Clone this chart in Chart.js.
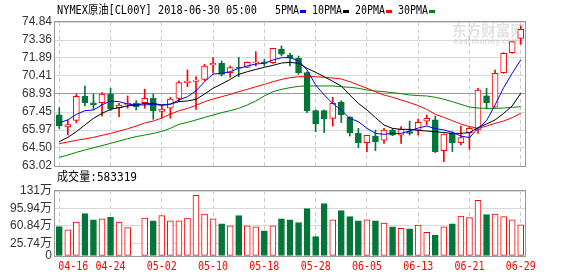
<!DOCTYPE html>
<html>
<head>
<meta charset="utf-8">
<script src="https://cdn.jsdelivr.net/npm/chart.js@4.4.0/dist/chart.umd.min.js"></script>
<style>
  body { margin: 0; background: #fff; width: 578px; height: 276px; overflow: hidden; position: relative; }
  canvas { position: absolute; left: 0; }
  #kline { top: 0; }
  #vol { top: 168px; }
</style>
</head>
<body>
<canvas id="kline" width="578" height="180"></canvas>
<canvas id="vol" width="578" height="108"></canvas>
<script>
const title = 'NYMEX原油[CL00Y] 2018-06-30 05:00';
const lastVolume = '583319';

const dates = ['04-16','04-17','04-18','04-19','04-20','04-23','04-24','04-25','04-26','04-27',
  '04-30','05-01','05-02','05-03','05-04','05-07','05-08','05-09','05-10','05-11',
  '05-14','05-15','05-16','05-17','05-18','05-21','05-22','05-23','05-24','05-25',
  '05-28','05-29','05-30','05-31','06-01','06-04','06-05','06-06','06-07','06-08',
  '06-11','06-12','06-13','06-14','06-15','06-18','06-19','06-20','06-21','06-22',
  '06-25','06-26','06-27','06-28','06-29'];
const xTickLabels = ['04-16','04-24','05-02','05-10','05-18','05-28','06-05','06-13','06-21','06-29'];

const open = [67.21,66.22,66.77,68.74,68.21,68.21,68.93,67.80,68.03,68.17,
  68.21,68.57,67.51,67.76,68.57,69.86,69.97,70.13,71.31,71.45,
  70.68,71.12,71.12,71.50,71.58,71.50,72.60,72.13,71.86,70.68,
  67.56,67.56,66.93,68.27,67.01,65.70,64.94,65.48,65.15,65.97,
  65.56,65.84,65.97,66.71,66.80,64.28,65.70,64.94,65.76,65.98,
  68.77,67.84,70.68,72.32,73.50];
const high = [67.80,66.80,68.93,69.59,68.93,69.04,69.40,68.17,68.77,68.38,
  69.32,68.93,68.03,68.66,70.00,70.90,70.35,71.37,71.91,71.64,
  71.23,71.94,71.56,72.40,71.77,72.68,72.87,72.27,72.05,70.76,
  67.62,67.62,68.66,68.38,67.07,66.11,65.54,65.97,66.11,66.11,
  66.25,66.71,66.88,67.21,67.12,65.65,65.84,66.30,66.25,69.40,
  69.40,70.90,72.32,73.23,74.51];
const low = [66.10,65.57,66.57,67.95,67.67,67.12,67.56,67.07,67.76,67.62,
  67.76,66.85,66.94,66.94,68.30,69.53,67.67,70.02,70.63,70.41,
  70.30,70.35,71.09,71.23,71.23,71.45,72.05,71.23,70.54,67.40,
  65.84,65.76,66.30,66.58,65.48,64.53,64.20,64.28,64.88,65.50,
  64.88,65.56,65.56,66.39,64.12,63.38,64.20,64.75,64.39,65.70,
  67.75,67.84,70.63,72.27,73.01];
const close = [66.30,66.43,68.74,68.21,68.05,68.93,67.72,68.02,68.17,67.89,
  68.57,67.56,67.70,68.52,69.86,70.00,70.08,71.23,71.45,70.54,
  71.09,71.04,71.53,71.58,71.45,72.68,72.19,71.91,70.68,67.56,
  66.47,66.88,68.16,67.21,65.76,64.94,65.54,65.02,65.97,65.56,
  66.03,65.70,66.60,66.93,64.20,65.65,64.94,65.35,66.11,69.26,
  68.22,70.63,72.27,73.23,74.24];

const ma5 = [66.58,66.80,67.26,67.56,67.62,68.03,68.36,68.30,68.11,68.03,
  68.03,68.08,68.00,68.08,68.44,68.71,69.18,69.94,70.57,70.63,
  70.76,71.04,71.23,71.39,71.45,71.72,71.91,71.91,71.66,70.90,
  69.67,68.85,68.16,67.62,66.93,66.66,66.11,65.70,65.62,65.70,
  65.70,65.89,66.14,66.30,66.09,65.98,65.78,65.48,65.35,66.11,
  66.74,68.03,69.45,70.63,71.72];
const ma10 = [65.02,65.37,65.84,66.39,66.93,67.34,67.67,67.81,67.95,68.03,
  68.16,68.16,68.03,68.11,68.30,68.36,68.49,68.93,69.40,69.75,
  70.13,70.54,70.76,70.95,71.12,71.28,71.47,71.53,71.45,71.04,
  70.71,70.35,69.97,69.59,68.85,68.16,67.62,66.99,66.38,66.11,
  66.03,66.03,65.95,65.89,65.84,65.76,65.70,65.70,65.76,66.17,
  66.47,66.80,67.34,67.95,68.99];
const ma20 = [64.85,64.99,65.13,65.24,65.37,65.54,65.70,65.89,66.08,66.30,
  66.55,66.71,66.96,67.29,67.55,67.75,68.00,68.30,68.52,68.71,
  68.90,69.12,69.31,69.53,69.72,69.94,70.13,70.27,70.35,70.35,
  70.35,70.30,70.24,70.16,69.94,69.67,69.40,69.12,68.85,68.66,
  68.44,68.22,67.98,67.67,67.26,67.01,66.74,66.47,66.25,66.11,
  66.30,66.52,66.71,66.99,67.34];
const ma30 = [63.73,63.92,64.14,64.33,64.52,64.69,64.88,65.07,65.26,65.43,
  65.56,65.70,65.86,66.11,66.44,66.60,66.80,67.01,67.20,67.40,
  67.56,67.75,68.03,68.36,68.77,69.12,69.31,69.45,69.56,69.59,
  69.59,69.59,69.59,69.53,69.48,69.40,69.26,69.18,69.12,69.04,
  68.96,68.85,68.80,68.77,68.66,68.50,68.30,68.08,67.86,67.78,
  67.75,67.75,67.78,67.84,67.89];

// 成交量, 单位 万
const volume = [59.4,52.6,68.3,85.4,73.1,75.1,77.8,68.3,57.3,null,
  76.5,71.1,81.3,71.1,71.1,76.5,122.2,84.7,75.1,64.9,
  60.8,81.3,60.8,58.7,50.6,60.8,75.1,73.1,67.6,95.6,
  39.0,105.8,73.1,91.5,79.2,71.0,73.1,71.0,66.3,58.7,
  56.0,54.6,62.2,47.8,42.4,58.7,64.9,80.6,77.2,112.0,
  83.3,84.7,79.2,73.1,62.8];

const priceTicks = [63.02,64.50,65.97,67.45,68.93,70.41,71.89,73.36,74.84];
const volTicks = [0,25.74,60.84,95.94,131];

const RED = '#ff0000';
const GREEN = '#06753a';
const up = close.map((c, i) => c >= open[i]);
const MONO = "'DejaVu Sans Mono', 'Noto Sans CJK SC', monospace";

const xAxis = () => ({
  type: 'category',
  offset: true,
  afterBuildTicks: s => { s.ticks = s.ticks.filter(t => xTickLabels.includes(dates[t.value])); },
  afterFit: s => { s.height = 0; },
  ticks: { display: false, autoSkip: false },
  grid: { color: '#cccccc', offset: false, drawTicks: false },
  border: { display: false, dash: [4, 3] }
});

const frame = {
  id: 'frame',
  beforeDatasetsDraw(chart) {
    const { ctx, chartArea: a } = chart;
    ctx.save();
    ctx.strokeStyle = '#999';
    ctx.lineWidth = 1;
    ctx.strokeRect(a.left - 0.5, a.top - 0.5, a.right - a.left + 1, a.bottom - a.top + 1);
    ctx.restore();
  }
};

const header = {
  id: 'header',
  beforeDatasetsDraw(chart) {
    const ctx = chart.ctx;
    ctx.save();
    ctx.fillStyle = 'rgba(175,175,175,0.35)';
    ctx.textBaseline = 'middle';
    ctx.font = "bold 15px 'Noto Sans CJK SC'";
    ctx.fillText('东方财富网', 452, 30, 73);
    ctx.font = "bold 9px 'DejaVu Sans'";
    ctx.fillText('eastmoney.com', 453, 42, 67);
    ctx.restore();
  },
  afterDraw(chart) {
    const ctx = chart.ctx;
    ctx.save();
    ctx.font = '12px ' + MONO;
    ctx.textBaseline = 'middle';
    ctx.fillStyle = '#000';
    ctx.fillText(title, 57, 11, 200);
    let x = 275;
    chart.data.datasets.filter(d => d.type === 'line').forEach(d => {
      const w = d.label.length * 6;
      ctx.fillStyle = '#000';
      ctx.fillText(d.label, x, 11, w);
      x += w + 1;
      ctx.fillStyle = d.borderColor;
      ctx.fillRect(x, 10, 6, 3);
      x += 12;
    });
    ctx.restore();
  }
};

const volHeader = {
  id: 'volHeader',
  afterDraw(chart) {
    const ctx = chart.ctx;
    const s = chart.scales.x;
    ctx.save();
    ctx.textBaseline = 'middle';
    ctx.font = '12px ' + MONO;
    ctx.fillStyle = '#000';
    ctx.fillText('成交量:' + lastVolume, 57, 10, 80);
    ctx.fillStyle = RED;
    s.ticks.forEach((t, i) => {
      const px = s.getPixelForValue(t.value);
      ctx.textAlign = i === 0 ? 'left' : 'center';
      ctx.fillText(dates[t.value], i === 0 ? px - 1 : px, 99, 30);
    });
    ctx.restore();
  }
};

const maLine = (label, data, color) => ({
  type: 'line', label, data, borderColor: color, borderWidth: 1,
  pointRadius: 0, tension: 0, order: 0
});

new Chart(document.getElementById('kline'), {
  data: {
    labels: dates,
    datasets: [
      maLine('5PMA', ma5, '#0000ff'),
      maLine('10PMA', ma10, '#000000'),
      maLine('20PMA', ma20, '#ff0000'),
      maLine('30PMA', ma30, '#008800'),
      {
        type: 'bar', label: 'body',
        data: open.map((o, i) => [Math.min(o, close[i]), Math.max(o, close[i])]),
        backgroundColor: up.map(u => u ? '#ffffff' : GREEN),
        borderColor: up.map(u => u ? RED : GREEN),
        borderWidth: 1, borderSkipped: false, barThickness: 6, grouped: false, order: 1
      },
      {
        type: 'bar', label: 'wick',
        data: low.map((l, i) => [l, high[i]]),
        backgroundColor: up.map(u => u ? RED : GREEN),
        borderWidth: 0, barThickness: 1, grouped: false, order: 2
      }
    ]
  },
  options: {
    responsive: false,
    animation: false,
    devicePixelRatio: 1,
    layout: { padding: { left: 0, right: 53, top: 22, bottom: 14 } },
    plugins: { legend: { display: false }, tooltip: { enabled: false } },
    scales: {
      x: xAxis(),
      y: {
        min: 63.02, max: 74.84,
        afterBuildTicks: s => { s.ticks = priceTicks.map(v => ({ value: v })); },
        afterFit: s => { s.width = 55; },
        ticks: { autoSkip: false, padding: 3, color: '#333', font: { family: 'Liberation Sans', size: 12 }, callback: v => v.toFixed(2) },
        grid: { drawTicks: false, color: c => c.tick && c.tick.value === 68.93 ? '#9a9a9a' : '#d9d9d9' },
        border: { display: false }
      }
    }
  },
  plugins: [frame, header]
});

new Chart(document.getElementById('vol'), {
  data: {
    labels: dates,
    datasets: [{
      type: 'bar', label: '成交量', data: volume,
      backgroundColor: up.map(u => u ? '#ffffff' : GREEN),
      borderColor: up.map(u => u ? RED : GREEN),
      borderWidth: 1, borderSkipped: false, barThickness: 6
    }]
  },
  options: {
    responsive: false,
    animation: false,
    devicePixelRatio: 1,
    layout: { padding: { left: 0, right: 53, top: 23, bottom: 20 } },
    plugins: { legend: { display: false }, tooltip: { enabled: false } },
    scales: {
      x: xAxis(),
      y: {
        min: 0, max: 131,
        afterBuildTicks: s => { s.ticks = volTicks.map(v => ({ value: v })); },
        afterFit: s => { s.width = 55; },
        ticks: {
          autoSkip: false, padding: 3, color: '#333', font: { family: "'Liberation Sans', 'Noto Sans CJK SC'", size: 12 },
          callback: v => v === 0 ? '0' : (v === 131 ? '131万' : v.toFixed(2) + '万')
        },
        grid: { drawTicks: false, color: '#d9d9d9' },
        border: { display: false }
      }
    }
  },
  plugins: [frame, volHeader]
});
</script>
</body>
</html>
